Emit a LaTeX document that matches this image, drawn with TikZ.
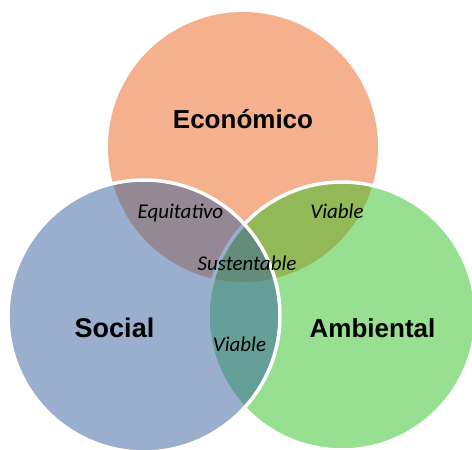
\documentclass[tikz,border=0pt]{standalone}
\usepackage{fontspec}
\newfontfamily\headfont{Liberation Sans}
\newfontfamily\labfont{Carlito}
\definecolor{ecocol}{HTML}{F5B08D}
\definecolor{ambcol}{HTML}{31C125}
\definecolor{soccol}{HTML}{37619D}
\begin{document}
\begin{tikzpicture}[x=1pt,y=-1pt,
  setcircle/.style={circle, inner sep=0pt, outer sep=0pt},
  overlay circle/.style={setcircle, fill opacity=0.5, draw=white, line width=3.5pt},
  biglabel/.style={font=\headfont\bfseries\fontsize{26}{30}\selectfont, anchor=base, inner sep=0pt, text=black},
  smalllabel/.style={font=\labfont\itshape\fontsize{21}{25}\selectfont, anchor=base, inner sep=0pt, text=black}]
\useasboundingbox (0,0) rectangle (472,450);
\clip (0,0) rectangle (472,450);
\fill[white] (0,0) rectangle (472,450);
\node[setcircle, fill=ecocol, minimum size=270pt] (eco) at (243,147) {};
\node[overlay circle, fill=ambcol, minimum size=268pt] (amb) at (342,316) {};
\node[overlay circle, fill=soccol, minimum size=272pt] (soc) at (144,316) {};
\node[biglabel] (tEco) at (243,128.5) {Económico};
\node[biglabel, font=\headfont\bfseries\fontsize{27}{31}\selectfont] (tSoc) at (114.5,337) {Social};
\node[biglabel] (tAmb) at (372.5,337) {Ambiental};
\node[smalllabel] (tEq) at (180.5,218.3) {Equitativo};
\node[smalllabel] (tVia1) at (337,218.3) {Viable};
\node[smalllabel] (tSus) at (247,270.7) {Sustentable};
\node[smalllabel] (tVia2) at (239.5,351.7) {Viable};
\end{tikzpicture}
\end{document}
